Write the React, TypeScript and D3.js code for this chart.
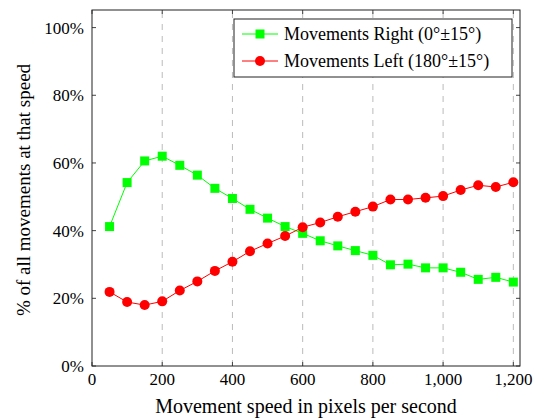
import React from "react";
import * as d3 from "d3";

const speeds = [50, 100, 150, 200, 250, 300, 350, 400, 450, 500, 550, 600, 650, 700, 750, 800, 850, 900, 950, 1000, 1050, 1100, 1150, 1200];
const rightPct = [41.2, 54.2, 60.6, 62.0, 59.3, 56.4, 52.5, 49.5, 46.3, 43.7, 41.2, 39.2, 37.0, 35.5, 34.1, 32.7, 29.9, 30.1, 29.0, 29.0, 27.7, 25.6, 26.2, 24.8];
const leftPct = [21.9, 18.9, 18.0, 19.1, 22.3, 25.0, 28.1, 30.8, 33.9, 36.2, 38.4, 41.0, 42.4, 44.1, 45.6, 47.1, 49.2, 49.2, 49.7, 50.2, 52.0, 53.4, 52.9, 54.3];
const xTicks = [0, 200, 400, 600, 800, 1000, 1200];
const yTicks = [0, 20, 40, 60, 80, 100];
const seriesNames = ["Movements Right (0°±15°)", "Movements Left (180°±15°)"];

const W = 540, H = 420;
const L = 92, R = 520, T = 10, B = 366;
const FONT = "Liberation Serif, DejaVu Serif, Times New Roman, serif";

export default function App() {
  const x = d3.scaleLinear().domain([0, 1219]).range([L, R]);
  const y = d3.scaleLinear().domain([0, 105.2]).range([B, T]);
  const line = (vals: number[]) =>
    d3.line<number>().x((_, i) => x(speeds[i])).y((v) => y(v))(vals) || "";
  const fmt = d3.format(",");
  const green = "#00ff00";
  const red = "#ff0000";
  return (
    <svg width={W} height={H} style={{ position: "absolute", left: 0, top: 0, fontFamily: FONT }}>
      <rect x={0} y={0} width={W} height={H} fill="#fff" />
      {xTicks.filter((t) => t > 0).map((t) => (
        <line key={"g" + t} x1={x(t)} x2={x(t)} y1={B} y2={T} stroke="#bbb" strokeWidth={1} strokeDasharray="6,6" />
      ))}
      {xTicks.map((t) => (
        <g key={"xt" + t}>
          <line x1={x(t)} x2={x(t)} y1={B} y2={B - 4} stroke="#444" />
          <line x1={x(t)} x2={x(t)} y1={T} y2={T + 4} stroke="#444" />
          <text x={x(t)} y={B + 19} textAnchor="middle" fontSize={17} fill="#000">{fmt(t)}</text>
        </g>
      ))}
      {yTicks.map((t) => (
        <g key={"yt" + t}>
          <line x1={L} x2={L + 4} y1={y(t)} y2={y(t)} stroke="#444" />
          <line x1={R} x2={R - 4} y1={y(t)} y2={y(t)} stroke="#444" />
          <text x={L - 8} y={y(t) + 6} textAnchor="end" fontSize={17} fill="#000">{t + "%"}</text>
        </g>
      ))}
      <rect x={L} y={T} width={R - L} height={B - T} fill="none" stroke="#222" strokeWidth={1} />
      <path d={line(rightPct)} fill="none" stroke={green} strokeWidth={1} />
      <path d={line(leftPct)} fill="none" stroke={red} strokeWidth={1} />
      {rightPct.map((v, i) => (
        <rect key={"s" + i} x={x(speeds[i]) - 4.5} y={y(v) - 4.5} width={9} height={9} fill={green} />
      ))}
      {leftPct.map((v, i) => (
        <circle key={"c" + i} cx={x(speeds[i])} cy={y(v)} r={5} fill={red} />
      ))}
      <g>
        <rect x={234} y={19} width={278} height={58} fill="#fff" stroke="#222" strokeWidth={1} />
        <line x1={242} x2={278} y1={34} y2={34} stroke={green} />
        <rect x={255.5} y={29.5} width={9} height={9} fill={green} />
        <text x={284} y={40} fontSize={18} fill="#000">{seriesNames[0]}</text>
        <line x1={242} x2={278} y1={61} y2={61} stroke={red} />
        <circle cx={260} cy={61} r={5} fill={red} />
        <text x={284} y={67} fontSize={18} fill="#000">{seriesNames[1]}</text>
      </g>
      <text x={(L + R) / 2 - 0} y={413} textAnchor="middle" fontSize={20} fill="#000">Movement speed in pixels per second</text>
      <text transform={`translate(30,${(T + B) / 2 + 2}) rotate(-90)`} textAnchor="middle" fontSize={19} fill="#000">% of all movements at that speed</text>
    </svg>
  );
}
